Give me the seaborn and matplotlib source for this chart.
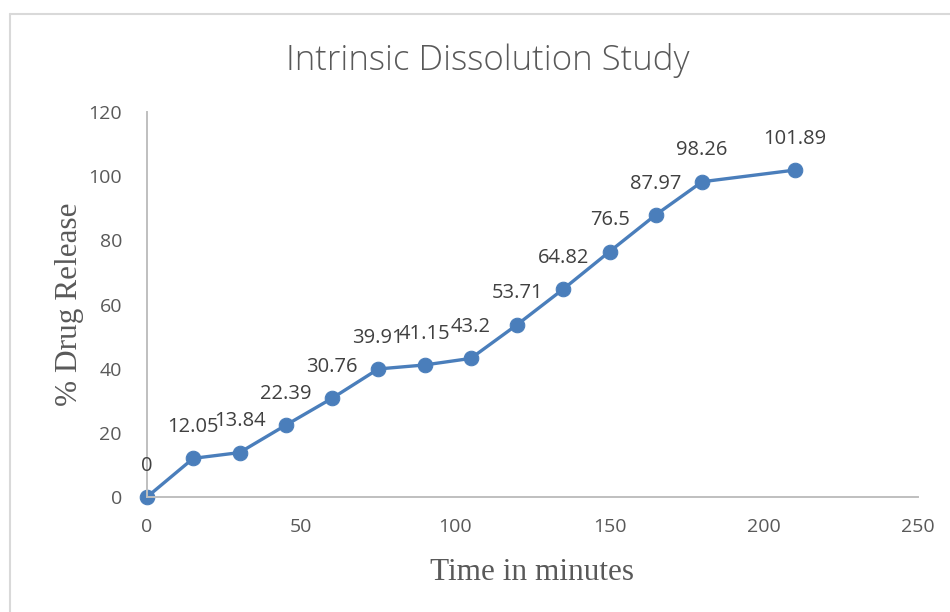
import matplotlib
matplotlib.use("Agg")
import matplotlib.pyplot as plt
from matplotlib.lines import Line2D
import seaborn as sns
import pandas as pd

# Sampling times (minutes) and cumulative release (%)
time_min = [0, 15, 30, 45, 60, 75, 90, 105, 120, 135, 150, 165, 180, 210]
release_pct = [0, 12.05, 13.84, 22.39, 30.76, 39.91, 41.15, 43.2,
               53.71, 64.82, 76.5, 87.97, 98.26, 101.89]
release_labels = ["0", "12.05", "13.84", "22.39", "30.76", "39.91", "41.15",
                  "43.2", "53.71", "64.82", "76.5", "87.97", "98.26", "101.89"]
x_ticks = [0, 50, 100, 150, 200, 250]
y_ticks = [0, 20, 40, 60, 80, 100, 120]

df = pd.DataFrame({"Time": time_min, "Release": release_pct})

sns.set_theme(style="white")
plt.rcParams["font.family"] = ["Open Sans", "DejaVu Sans"]

W, H = 950, 612
fig = plt.figure(figsize=(W / 100, H / 100), dpi=100)
ax = fig.add_axes([147 / W, 1 - 497 / H, (918 - 147) / W, (497 - 112) / H])

blue = "#4A7EBB"
text_grey = "#595959"
axis_grey = "#BFBFBF"

sns.lineplot(data=df, x="Time", y="Release", ax=ax, color=blue,
             linewidth=2.4, marker="o", markersize=10.5,
             markeredgecolor=blue, markerfacecolor=blue, clip_on=False)

for xv, yv, lab in zip(time_min, release_pct, release_labels):
    ax.annotate(lab, (xv, yv), xytext=(0, 22.5), textcoords="offset points",
                ha="center", va="center", fontsize=14.5, color="#404040")

ax.set_xlim(0, 250)
ax.set_ylim(0, 120)
ax.set_xticks(x_ticks)
ax.set_yticks(y_ticks)
ax.tick_params(axis="both", length=0, labelsize=14, labelcolor=text_grey)
ax.tick_params(axis="x", pad=15)
ax.tick_params(axis="y", pad=18)

for side in ("top", "right"):
    ax.spines[side].set_visible(False)
for side in ("left", "bottom"):
    ax.spines[side].set_color(axis_grey)
    ax.spines[side].set_linewidth(1.4)
ax.grid(False)

ax.set_xlabel("Time in minutes", family="Liberation Serif", fontsize=22.5,
              color=text_grey, labelpad=16)
ax.set_ylabel("% Drug Release", family="Liberation Serif", fontsize=22.5,
              color=text_grey, labelpad=3)

fig.text(488 / W, 1 - 60 / H, "Intrinsic Dissolution Study", ha="center",
         va="center", fontsize=25, color=text_grey, fontweight="light")

# chart-area frame (left and top edges)
border = "#D9D9D9"
fig.add_artist(Line2D([9.5 / W, 9.5 / W], [0, 1 - 14 / H], color=border,
                      linewidth=1.5, transform=fig.transFigure))
fig.add_artist(Line2D([9.5 / W, 1], [1 - 14 / H, 1 - 14 / H], color=border,
                      linewidth=1.5, transform=fig.transFigure))

fig.savefig("out.png", dpi=100)
